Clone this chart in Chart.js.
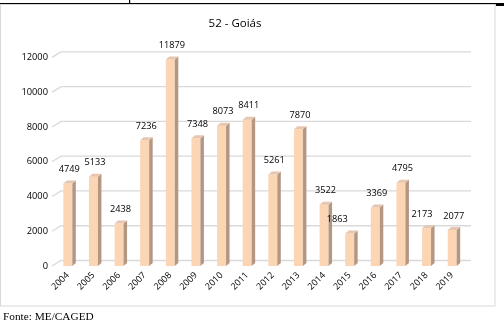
<!DOCTYPE html>
<html>
<head>
<meta charset="utf-8">
<script src="https://cdn.jsdelivr.net/npm/chart.js@4/dist/chart.umd.min.js"></script>
<style>
html,body{margin:0;padding:0;background:#fff;overflow:hidden;}
#wrap{position:absolute;left:0;top:0;width:504px;height:329px;}
#c{position:absolute;left:0;top:0;}
#foot{position:absolute;left:3px;top:309px;font-family:"Liberation Serif","Times New Roman",serif;font-size:11.3px;color:#000;line-height:14px;white-space:nowrap;}
</style>
</head>
<body>
<div id="wrap">
<canvas id="c" width="504" height="329"></canvas>
<div id="foot">Fonte: ME/CAGED</div>
</div>
<script>
const chartTitle = "52 - Goiás";
const years = ["2004","2005","2006","2007","2008","2009","2010","2011","2012","2013","2014","2015","2016","2017","2018","2019"];
const values = [4749, 5133, 2438, 7236, 11879, 7348, 8073, 8411, 5261, 7870, 3522, 1863, 3369, 4795, 2173, 2077];
const yTicks = [0, 2000, 4000, 6000, 8000, 10000, 12000];

const FRONT = "#FCD5B5", SIDE = "#B39782", TOP = "#E6C6AE", GRID = "#D9D9D9";
const DX = 3.5, DY = 3;

const frame = {
  id: "frame",
  beforeDraw(chart) {
    const ctx = chart.ctx;
    ctx.save();
    ctx.fillStyle = "#fff";
    ctx.fillRect(0, 0, 504, 329);
    ctx.fillStyle = "#000";
    ctx.fillRect(0, 3, 504, 1.5);
    ctx.fillRect(129, 0, 1.2, 4);
    ctx.fillRect(496, 3, 8, 3);
    ctx.strokeStyle = "#D9D9D9";
    ctx.lineWidth = 1;
    ctx.strokeRect(0.5, 4.5, 494.5, 301.5);
    ctx.restore();
  }
};

const grid3d = {
  id: "grid3d",
  beforeDatasetsDraw(chart) {
    const ctx = chart.ctx, ys = chart.scales.y, a = chart.chartArea;
    ctx.save();
    ctx.strokeStyle = GRID;
    ctx.lineWidth = 1.3;
    yTicks.forEach(v => {
      const y = ys.getPixelForValue(v);
      ctx.beginPath();
      ctx.moveTo(a.left - 3, y);
      ctx.lineTo(a.left + 6, y - 5.5);
      ctx.lineTo(a.right + 6, y - 5.5);
      ctx.stroke();
    });
    ctx.restore();
  }
};

const bars3d = {
  id: "bars3d",
  afterDatasetsDraw(chart, args, opts) {
    const ctx = chart.ctx;
    const meta = chart.getDatasetMeta(0);
    ctx.save();
    meta.data.forEach((bar, i) => {
      const p = bar.getProps(["x", "y", "base", "width"], true);
      const l = p.x - p.width / 2, r = p.x + p.width / 2;
      ctx.fillStyle = SIDE;
      ctx.beginPath();
      ctx.moveTo(r, p.y);
      ctx.lineTo(r + DX, p.y - DY);
      ctx.lineTo(r + DX, p.base - DY);
      ctx.lineTo(r, p.base);
      ctx.closePath();
      ctx.fill();
      ctx.fillStyle = TOP;
      ctx.beginPath();
      ctx.moveTo(l, p.y);
      ctx.lineTo(l + DX, p.y - DY);
      ctx.lineTo(r + DX, p.y - DY);
      ctx.lineTo(r, p.y);
      ctx.closePath();
      ctx.fill();
      const shift = (opts.shift && opts.shift[i]) || 0;
      ctx.fillStyle = "#000";
      ctx.font = "9.2px 'Open Sans'";
      ctx.textAlign = "center";
      ctx.textBaseline = "middle";
      ctx.fillText(String(values[i]), p.x + 1.5 + shift, p.y - 14);
    });
    ctx.restore();
  }
};

new Chart(document.getElementById("c"), {
  type: "bar",
  data: {
    labels: years,
    datasets: [{
      data: values,
      backgroundColor: FRONT,
      borderWidth: 0,
      barPercentage: 0.35,
      categoryPercentage: 1
    }]
  },
  options: {
    responsive: false,
    animation: false,
    events: [],
    layout: { padding: { left: 5, right: 39, top: 0, bottom: 23 } },
    plugins: {
      legend: { display: false },
      tooltip: { enabled: false },
      title: {
        display: true,
        text: chartTitle,
        color: "#000",
        font: { family: "Open Sans", size: 11.5, weight: "normal" },
        padding: { top: 17, bottom: 26.6 }
      },
      bars3d: { shift: { 11: -14, 14: -6 } }
    },
    scales: {
      x: {
        grid: { display: false, drawTicks: false },
        border: { display: false },
        ticks: {
          color: "#000",
          font: { family: "Open Sans", size: 9 },
          minRotation: 45,
          maxRotation: 45,
          padding: 4,
          autoSkip: false
        },
        afterFit(s) { s.height = 40; }
      },
      y: {
        min: 0,
        max: 12000,
        grid: { display: false, drawTicks: false },
        border: { display: false },
        afterBuildTicks(s) { s.ticks = yTicks.map(v => ({ value: v })); },
        ticks: {
          color: "#000",
          font: { family: "Open Sans", size: 9.3 },
          padding: 7,
          callback: v => String(v)
        },
        afterFit(s) { s.width = 50; }
      }
    }
  },
  plugins: [frame, grid3d, bars3d]
});
</script>
</body>
</html>
